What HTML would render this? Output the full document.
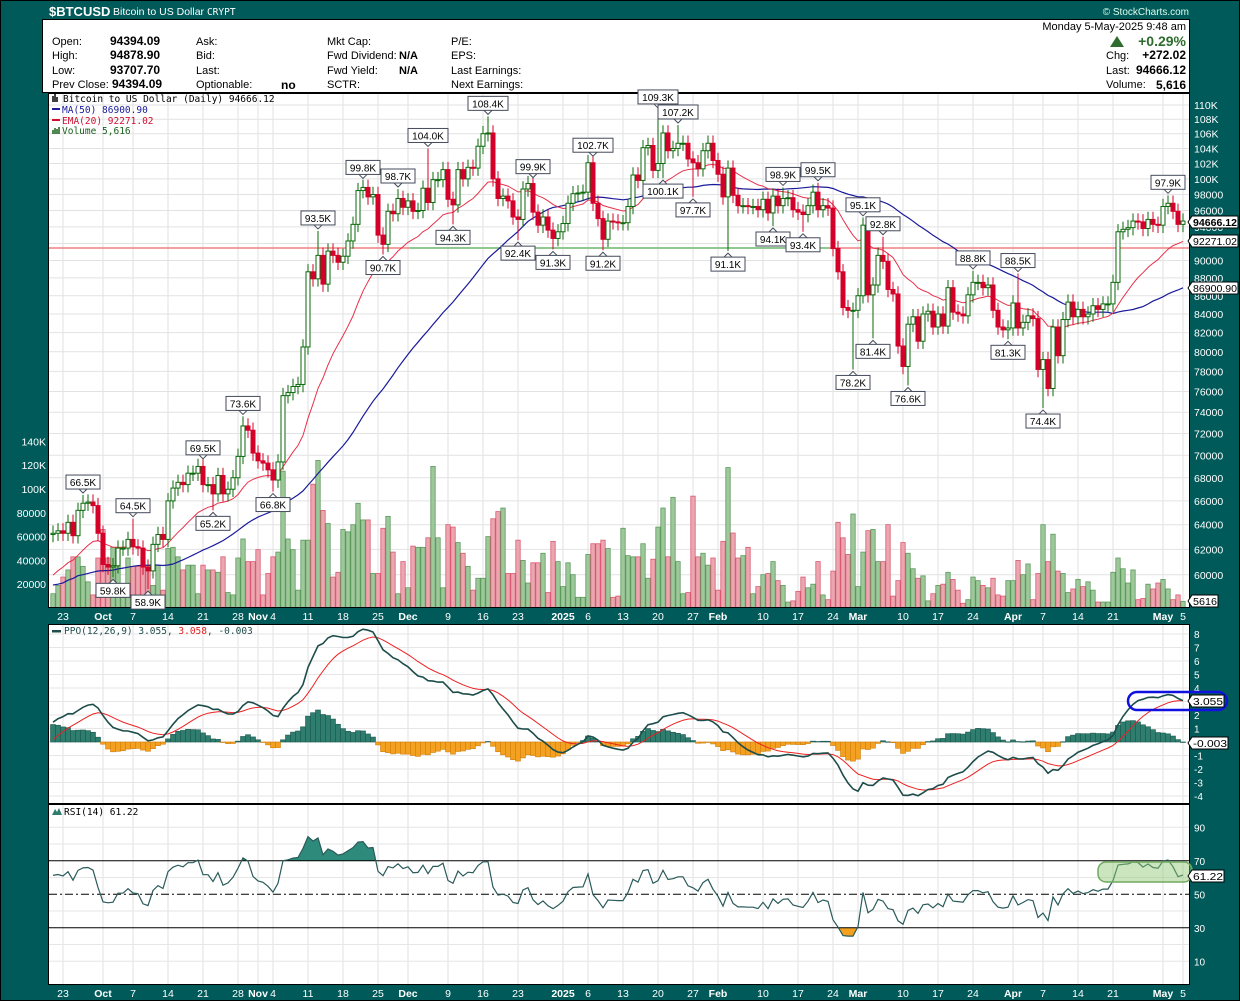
<!DOCTYPE html>
<html><head><meta charset="utf-8"><title>$BTCUSD</title>
<style>
html,body{margin:0;padding:0;background:#015a5a;}
svg{display:block;}
text{font-family:"Liberation Sans",sans-serif;}
.mono{font-family:"DejaVu Sans Mono","Liberation Mono",monospace;}
</style></head>
<body>
<svg id="chart" width="1240" height="1001" viewBox="0 0 1240 1001" xmlns="http://www.w3.org/2000/svg">
<rect x="0" y="0" width="1240" height="1001" fill="#015a5a"/>
<rect x="0.5" y="0.5" width="1239" height="1000" fill="none" stroke="#000"/>
<text x="49" y="16" fill="#fff" font-size="13" font-weight="bold">$BTCUSD</text>
<text x="113" y="15" fill="#fff" font-size="10.5">Bitcoin to US Dollar <tspan class="mono" font-size="9.5">CRYPT</tspan></text>
<text x="1189" y="15" fill="#dfe" font-size="10" text-anchor="end">© StockCharts.com</text>
<g>
<rect x="42.5" y="19.5" width="1147" height="73" fill="#fff" stroke="#000"/>
<g font-size="11" fill="#000">
<text x="52" y="45">Open:</text><text x="110" y="45" font-weight="bold" font-size="12">94394.09</text>
<text x="52" y="59">High:</text><text x="110" y="59" font-weight="bold" font-size="12">94878.90</text>
<text x="52" y="74">Low:</text><text x="110" y="74" font-weight="bold" font-size="12">93707.70</text>
<text x="52" y="88">Prev Close:</text><text x="112" y="88" font-weight="bold" font-size="12">94394.09</text>
<text x="196" y="45">Ask:</text><text x="196" y="59">Bid:</text><text x="196" y="74">Last:</text><text x="196" y="88">Optionable:</text>
<text x="281" y="89" font-weight="bold" font-size="12">no</text>
<text x="327" y="45">Mkt Cap:</text><text x="327" y="59">Fwd Dividend:</text><text x="327" y="74">Fwd Yield:</text><text x="327" y="88">SCTR:</text>
<text x="399" y="59" font-weight="bold">N/A</text><text x="399" y="74" font-weight="bold">N/A</text>
<text x="451" y="45">P/E:</text><text x="451" y="59">EPS:</text><text x="451" y="74">Last Earnings:</text><text x="451" y="88">Next Earnings:</text>
<text x="1186" y="30" text-anchor="end">Monday  5-May-2025  9:48 am</text>
<text x="1186" y="46" text-anchor="end" font-size="14" font-weight="bold" fill="#2e6b2e">+0.29%</text>
<path d="M1110,47 L1117,36 L1124,47 Z" fill="#2e6b2e"/>
<text x="1106" y="59">Chg:</text><text x="1186" y="59" text-anchor="end" font-weight="bold" font-size="12">+272.02</text>
<text x="1106" y="74">Last:</text><text x="1186" y="74" text-anchor="end" font-weight="bold" font-size="12">94666.12</text>
<text x="1106" y="88">Volume:</text><text x="1186" y="89" text-anchor="end" font-weight="bold" font-size="12">5,616</text>
</g>
</g>
<rect x="48.5" y="93.5" width="1141" height="514" fill="#fff" stroke="#000"/>
<rect x="48.5" y="624.5" width="1141" height="179" fill="#fff" stroke="#000"/>
<rect x="48.5" y="804.5" width="1141" height="180" fill="#fff" stroke="#000"/>
<defs>
<clipPath id="clipPrice"><rect x="49" y="94" width="1140" height="513"/></clipPath>
<clipPath id="clipPPO"><rect x="49" y="625" width="1140" height="178"/></clipPath>
<clipPath id="clipRsiHi"><rect x="49" y="805" width="1140" height="56"/></clipPath>
<clipPath id="clipRsiLo"><rect x="49" y="928" width="1140" height="56"/></clipPath>
</defs>
<g id="gGrid"></g>
<g id="gVol" clip-path="url(#clipPrice)"></g>
<line x1="49" y1="248" x2="1189" y2="248" stroke="#f08080" stroke-width="1.5"/>
<line x1="410" y1="248" x2="830" y2="248" stroke="#90c890" stroke-width="2"/>
<g id="gLines" clip-path="url(#clipPrice)"></g>
<g id="gCandles" clip-path="url(#clipPrice)"></g>
<g id="gAnn"></g>
<g id="gPPO" clip-path="url(#clipPPO)"></g>
<g id="gRSI"></g>
<g id="gAxes"></g>
<g>
<text class="mono" x="63" y="102" font-size="9.5" fill="#000">Bitcoin to US Dollar (Daily) 94666.12</text>
<path d="M53,102 v-6 M55,102 v-8 M57,102 v-5" stroke="#000" stroke-width="1.5"/>
<rect x="52" y="108" width="8" height="2" fill="#1a1a9a"/><text class="mono" x="62" y="113" font-size="9.5" fill="#1a1a9a">MA(50) 86900.90</text>
<rect x="52" y="119" width="8" height="2" fill="#d01030"/><text class="mono" x="62" y="124" font-size="9.5" fill="#d01030">EMA(20) 92271.02</text>
<path d="M53,134 v-4 M55,134 v-6 M57,134 v-5 M59,134 v-7" stroke="#186018" stroke-width="1.5"/><text class="mono" x="62" y="134" font-size="9.5" fill="#186018">Volume 5,616</text>
</g>
<g>
<rect x="52" y="630" width="9" height="2.5" fill="#1d4d4a"/>
<text class="mono" x="64" y="634" font-size="9.5" fill="#1d4d4a">PPO(12,26,9) 3.055, <tspan fill="#e02020">3.058</tspan>, -0.003</text>
</g>
<g>
<path d="M52,815 l3,-6 l2,3 l2,-4 l3,7 Z" fill="#2e7d6e"/>
<text class="mono" x="64" y="815" font-size="9.5" fill="#000">RSI(14) 61.22</text>
</g>
<rect x="1128" y="692" width="99" height="18" rx="9" fill="none" stroke="#1010e0" stroke-width="2.5"/>
<rect x="1098" y="862" width="94" height="20" rx="8" fill="rgba(140,200,110,0.45)" stroke="#70a860" stroke-width="1.5"/>
<g id="gTags"></g>
</svg>
<script>
// ---- data (prices in thousands USD) ----
const warmupCloses = [65.3,61.4,60.6,58.1,54.0,56.0,55.1,61.7,60.8,60.9,58.7,59.3,60.6,58.7,57.5,58.9,59.5,58.4,59.5,59.0,61.2,60.4,64.1,64.2,64.2,62.9,59.5,59.0,59.4,59.1,58.9,57.3,59.1,57.5,58.0,56.2,53.9,54.2,54.8,57.0,57.6,57.3,58.1,60.5,60.0,59.2,58.2,60.3,61.8,63.0,63.2];
const closes = [
63.3,63.5,63.3,64.2,63.1,65.2,65.8,65.9,65.6,63.3,
60.8,60.6,60.7,62.1,62.1,62.8,62.2,62.1,60.6,60.3,62.4,63.2,62.8,66.0,67.1,67.6,67.4,68.4,68.4,69.0,67.4,67.4,66.6,68.2,66.6,67.0,68.0,69.9,72.7,72.3,70.2,
69.5,69.3,68.7,67.8,69.4,75.6,75.9,76.5,76.7,80.5,88.7,87.9,90.6,87.3,91.1,90.6,89.8,90.5,92.3,94.3,98.5,98.9,97.7,98.0,93.0,91.9,95.9,95.6,97.5,96.4,
97.2,95.9,96.0,98.8,97.0,99.9,99.9,101.2,97.4,96.7,101.2,100.0,101.5,101.4,104.3,106.0,106.1,100.0,97.5,97.8,97.2,95.2,94.9,98.7,99.4,95.8,94.2,95.2,93.6,92.6,93.4,
94.4,96.9,98.1,98.2,98.3,102.1,96.9,95.0,92.5,94.7,94.6,94.5,94.5,96.5,100.5,99.8,104.1,104.4,101.1,102.0,106.1,103.7,104.0,104.7,104.7,102.6,102.1,101.3,103.7,104.7,102.4,
100.6,97.7,101.4,97.9,96.6,96.6,96.5,96.5,96.1,97.4,95.7,97.8,96.6,97.5,97.6,96.1,95.8,95.5,96.6,98.3,96.1,96.6,96.3,91.4,88.7,84.7,84.4,84.4,
86.0,94.2,86.1,87.2,90.6,89.9,86.7,86.2,80.6,78.5,82.9,83.7,81.1,84.0,84.3,82.6,84.0,82.7,86.9,84.2,84.0,83.8,86.1,87.5,87.5,86.9,87.2,84.4,82.6,82.3,82.5,
85.2,82.5,83.1,83.8,83.5,78.2,79.2,76.3,82.6,79.6,83.4,85.3,83.7,84.5,83.7,84.0,84.9,84.5,85.1,85.1,87.5,93.4,93.7,93.9,94.7,94.6,93.8,94.9,94.3,94.2,
96.5,96.9,95.9,94.3,94.7];
// volume in thousands
const volumes = [12,19,26,32,43,43,35,22,11,42,66,42,51,49,9,42,35,35,50,36,19,36,15,50,51,43,32,36,36,12,
36,32,32,30,43,13,11,42,58,39,39,49,11,29,43,47,115,58,49,15,57,57,104,124,82,71,26,30,66,64,
70,88,74,74,29,29,67,77,47,12,39,17,52,51,51,59,119,59,17,70,68,55,46,35,15,25,25,60,75,81,
84,29,29,57,40,21,38,38,46,13,56,39,18,38,28,9,9,45,54,54,57,50,9,10,67,44,43,43,54,25,
41,68,84,43,93,39,12,13,94,43,46,36,42,15,56,118,63,42,44,51,12,18,28,29,39,23,19,5,6,14,
26,17,20,39,11,7,31,72,59,45,79,18,47,65,66,39,39,70,10,23,55,46,33,25,27,6,12,19,20,30,
24,15,4,7,26,23,19,17,25,11,10,23,23,40,28,37,7,29,70,39,62,31,29,13,16,24,18,22,15,5,
5,5,30,42,33,21,32,7,8,20,16,21,24,16,7,11,5.6];
// annotations: day index, label value (K), above/below
const annDays = [6,12,16,19,30,32,38,44,53,62,66,69,75,80,87,93,96,100,108,110,121,122,125,128,135,144,146,150,153,160,162,164,166,171,184,191,193,198,223];
const annValues = [66.5,59.8,64.5,58.9,69.5,65.2,73.6,66.8,93.5,99.8,90.7,98.7,104.0,94.3,108.4,92.4,99.9,91.3,102.7,91.2,109.3,100.1,107.2,97.7,91.1,94.1,98.9,93.4,99.5,78.2,95.1,81.4,92.8,76.6,88.8,81.3,88.5,74.4,97.9];
const annAbove = [1,0,1,0,1,0,1,0,1,1,0,1,1,0,1,0,1,0,1,0,1,0,1,0,0,0,1,0,1,0,1,0,1,0,1,0,1,0,1];
// axes
const priceTicks = [110,108,106,104,102,100,98,96,94,92,90,88,86,84,82,80,78,76,74,72,70,68,66,64,62,60];
const volTicks = [140,120,100,80,60,40,20];
const dateDays = [2,10,16,23,30,37,41,44,51,58,65,71,79,86,93,102,107,114,121,128,133,142,149,156,161,170,177,184,192,198,205,212,222,226];
const dateLabels = ['23','Oct','7','14','21','28','Nov','4','11','18','25','Dec','9','16','23','2025','6','13','20','27','Feb','10','17','24','Mar','10','17','24','Apr','7','14','21','May','5'];
const ppoTicks = [8,7,6,5,4,3,2,1,0,-1,-2,-3,-4];
const rsiTicks = [90,70,50,30,10];

const NS='http://www.w3.org/2000/svg';
function mk(tag, attrs, parent){const e=document.createElementNS(NS,tag);for(const k in attrs)e.setAttribute(k,attrs[k]);if(parent)parent.appendChild(e);return e;}
const xD = i => 53 + 5*i;
const yP = v => 105 + 775*Math.log(110/v);
const yV = v => 608 - 1.19*v;
const yPPO = v => 742 - 13.5*v;
const yR = v => 978 - 1.675*v;
const fmt = v => v>=100 ? v+'K' : (v*1000).toString();

const all = warmupCloses.concat(closes);
const N0 = warmupCloses.length;
const n = closes.length;
const gGrid=document.getElementById('gGrid'), gVol=document.getElementById('gVol'), gLines=document.getElementById('gLines'),
 gC=document.getElementById('gCandles'), gAnn=document.getElementById('gAnn'), gPPO=document.getElementById('gPPO'),
 gRSI=document.getElementById('gRSI'), gAxes=document.getElementById('gAxes'), gTags=document.getElementById('gTags');

// grid
priceTicks.forEach(t=>{
  const l=mk('line',{x1:49,x2:1189,y1:yP(t),y2:yP(t),stroke:'#e2e2e2','stroke-width':1},gGrid);
  
  
});
dateDays.forEach(d=>{
  [[94,607],[625,803],[805,984]].forEach(r=>{
    const l=mk('line',{x1:xD(d),x2:xD(d),y1:r[0],y2:r[1],stroke:'#e2e2e2','stroke-width':1},gGrid);
    
    
  });
});
ppoTicks.forEach(t=>{
  const l=mk('line',{x1:49,x2:1189,y1:yPPO(t),y2:yPPO(t),stroke:'#e6e6e6'},gGrid);
  
  
});
[90,80,60,40,20,10].forEach(t=>{
  const l=mk('line',{x1:49,x2:1189,y1:yR(t),y2:yR(t),stroke:'#e6e6e6'},gGrid);
  
  
});

// volume
for(let i=0;i<n;i++){
  const o=all[N0+i-1], c=closes[i], up=c>=o;
  const y=yV(volumes[i]);
  const r=mk('rect',{x:xD(i)-2.2,y:y,width:4.4,height:608-y,fill:up?'#9dc89a':'#eba6b0',stroke:up?'#5c9a5c':'#da5a72','stroke-width':0.8},gVol);
  
  
}

// moving averages
function sma(arr,p,i){let s=0,c=0;for(let k=Math.max(0,i-p+1);k<=i;k++){s+=arr[k];c++;}return s/c;}
function emaSeries(arr,p){const a=2/(p+1);const out=[];let e=arr[0];for(let k=0;k<arr.length;k++){e=k===0?arr[0]:a*arr[k]+(1-a)*e;out.push(e);}return out;}
const ema20=emaSeries(all,20);
let dMA='',dEMA='';
for(let i=0;i<n;i++){
  const m=sma(all,50,N0+i), e=ema20[N0+i];
  dMA+=(i?'L':'M')+xD(i)+','+yP(m).toFixed(1);
  dEMA+=(i?'L':'M')+xD(i)+','+yP(e).toFixed(1);
}
const pm=mk('path',{d:dMA,fill:'none',stroke:'#1a1a9a','stroke-width':1.2},gLines);


const pe=mk('path',{d:dEMA,fill:'none',stroke:'#e8304a','stroke-width':1},gLines);



// candles
for(let i=0;i<n;i++){
  const o=all[N0+i-1], c=closes[i], up=c>=o;
  let hi=Math.max(o,c)*1.01, lo=Math.min(o,c)*0.99;
  const ai=annDays.indexOf(i);
  if(ai>=0){ if(annAbove[ai]) hi=Math.max(hi,annValues[ai]); else lo=Math.min(lo,annValues[ai]); }
  const col=up?'#0a6a0a':'#d4002a';
  const w=mk('line',{x1:xD(i),x2:xD(i),y1:yP(hi),y2:yP(lo),stroke:col,'stroke-width':1},gC);
  
  
  const yt=yP(Math.max(o,c)), yb=yP(Math.min(o,c));
  const b=mk('rect',{x:xD(i)-2,y:yt,width:4,height:Math.max(1,yb-yt),fill:up?'#fff':'#d4002a',stroke:col,'stroke-width':1},gC);
  
  
}

// annotations
annDays.forEach((d,k)=>{
  const v=annValues[k], above=annAbove[k]===1;
  const yv=yP(v), x=xD(d);
  const cy=above?yv-13:yv+13;
  const g=mk('g',{},gAnn);
  
  
  const label=v.toFixed(1)+'K';
  const bw=label.length*6+4;
  mk('path',{d:above?`M${x-4},${cy+7} L${x},${cy+11} L${x+4},${cy+7}`:`M${x-4},${cy-7} L${x},${cy-11} L${x+4},${cy-7}`,fill:'#fff',stroke:'#444a5a'},g);
  mk('rect',{x:x-bw/2,y:cy-7,width:bw,height:14,fill:'#fff',stroke:'#444a5a','stroke-width':1},g);
  const t=mk('text',{x:x,y:cy+4,'text-anchor':'middle','font-size':10,fill:'#000'},g);
  t.textContent=label;
});

// PPO
const e12=emaSeries(all,12), e26=emaSeries(all,26);
const ppoAll=all.map((_,k)=>(e12[k]-e26[k])/e26[k]*100);
const sigAll=emaSeries(ppoAll,9);
let dP='',dS='';
for(let i=0;i<n;i++){
  const p=ppoAll[N0+i], s=sigAll[N0+i], h=p-s;
  const y0=yPPO(0), yh=yPPO(h);
  const r=mk('rect',{x:xD(i)-2.5,y:Math.min(y0,yh),width:5,height:Math.max(0.5,Math.abs(yh-y0)),fill:h>=0?'#2e7d6e':'#f4a020',stroke:h>=0?'#1b5a50':'#d08010','stroke-width':0.6},gPPO);
  
  
  dP+=(i?'L':'M')+xD(i)+','+yPPO(p).toFixed(1);
  dS+=(i?'L':'M')+xD(i)+','+yPPO(s).toFixed(1);
}
const ps=mk('path',{d:dS,fill:'none',stroke:'#ee2020','stroke-width':1},gPPO);


const pp=mk('path',{d:dP,fill:'none',stroke:'#1d4d4a','stroke-width':1.6},gPPO);



// RSI (Wilder 14)
let ag=0,al=0;const rsiAll=[];
for(let k=1;k<all.length;k++){
  const ch=all[k]-all[k-1], g=Math.max(ch,0), l=Math.max(-ch,0);
  if(k<=14){ag+=g/14;al+=l/14;} else {ag=(ag*13+g)/14;al=(al*13+l)/14;}
  rsiAll[k]=al===0?100:100-100/(1+ag/al);
}
let dR='';
for(let i=0;i<n;i++) dR+=(i?'L':'M')+xD(i)+','+yR(rsiAll[N0+i]).toFixed(1);
const fillHi=mk('path',{d:dR+`L${xD(n-1)},${yR(70)}L${xD(0)},${yR(70)}Z`,fill:'#2e8a7a','clip-path':'url(#clipRsiHi)'},gRSI);


const fillLo=mk('path',{d:dR+`L${xD(n-1)},${yR(30)}L${xD(0)},${yR(30)}Z`,fill:'#f4a020','clip-path':'url(#clipRsiLo)'},gRSI);


[[70,'none'],[30,'none'],[50,'8,3,2,3']].forEach(a=>{
  const l=mk('line',{x1:49,x2:1189,y1:yR(a[0]),y2:yR(a[0]),stroke:'#000','stroke-width':1,'stroke-dasharray':a[1]},gRSI);
  
  
});
const rl=mk('path',{d:dR,fill:'none',stroke:'#2a5a5a','stroke-width':1.2},gRSI);



// axes labels
priceTicks.forEach(t=>{
  const tx=mk('text',{x:1194,y:yP(t)+4,fill:'#fff','font-size':10.5},gAxes);
  
  
  tx.textContent=fmt(t);
});
volTicks.forEach(t=>{
  const tx=mk('text',{x:46,y:yV(t)+4,fill:'#fff','font-size':10.5,'text-anchor':'end'},gAxes);
  
  
  tx.textContent=t>=100?t+'K':(t*1000).toString();
});
[620,997].forEach(yy=>{
  dateDays.forEach((d,k)=>{
    const bold=isNaN(+dateLabels[k])||dateLabels[k]==='2025';
    const tx=mk('text',{x:xD(d),y:yy,fill:'#fff','font-size':10.5,'text-anchor':'middle','font-weight':bold?'bold':'normal'},gAxes);
    
    
    tx.textContent=dateLabels[k];
  });
});
ppoTicks.forEach(t=>{
  const tx=mk('text',{x:1194,y:yPPO(t)+4,fill:'#fff','font-size':10},gAxes);
  
  
  tx.textContent=t;
});
rsiTicks.forEach(t=>{
  const tx=mk('text',{x:1194,y:yR(t)+4,fill:'#fff','font-size':10},gAxes);
  
  
  tx.textContent=t;
});

// value tags
function tag(x,y,label,w,name){
  const g=mk('g',{},gTags);
  
  
  mk('path',{d:`M${x},${y} L${x+4},${y-6} L${x+4+w},${y-6} L${x+4+w},${y+6} L${x+4},${y+6} Z`,fill:'#fff',stroke:'#000'},g);
  const t=mk('text',{x:x+5,y:y+4,'font-size':10,fill:'#000','font-weight':name==='last-price-tag'?'bold':'normal','textLength':w-2,'lengthAdjust':'spacingAndGlyphs'},g);
  t.textContent=label;
}
tag(1188,222,'94666.12',46,'last-price-tag');
tag(1188,241,'92271.02',46,'ema20-value-tag');
tag(1188,288,'86900.90',46,'ma50-value-tag');
tag(1188,601,'5616',26,'volume-value-tag');
tag(1188,701,'3.055',32,'ppo-value-tag');
tag(1188,743,'-0.003',36,'ppo-hist-value-tag');
tag(1188,876,'61.22',32,'rsi-value-tag');
</script>
</body></html>
